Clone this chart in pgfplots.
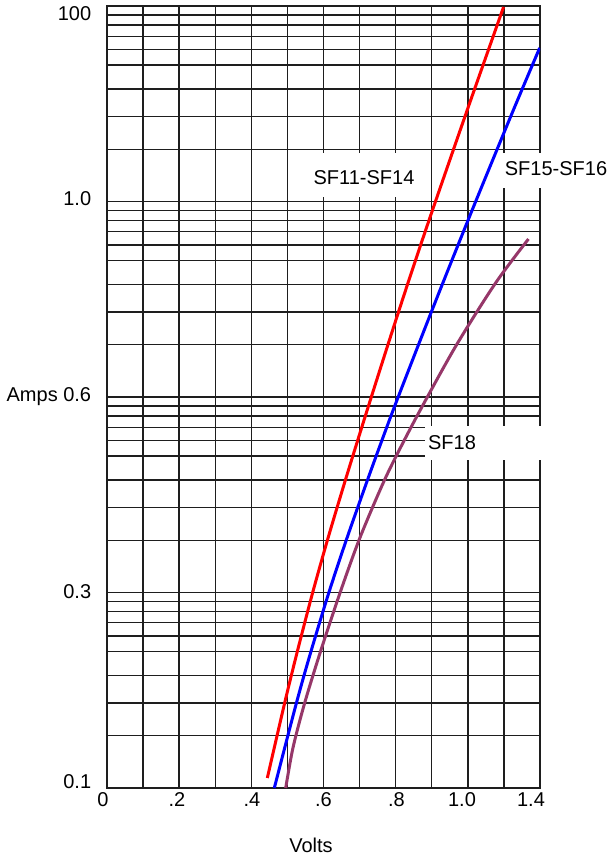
\documentclass[border=0pt]{standalone}
\usepackage{pgfplots}
\pgfplotsset{compat=1.18}
\usepackage{fontspec}
\setmainfont{Liberation Sans}
\definecolor{sfpurple}{RGB}{150,55,105}
\definecolor{gridc}{RGB}{30,30,30}
\begin{document}
\fontsize{20}{23}\selectfont
\begin{tikzpicture}[x=1pt,y=1pt]
\path[use as bounding box] (0,0) rectangle (611,859);
\begin{axis}[
  at={(107pt,71pt)}, anchor=south west,
  scale only axis, width=433pt, height=782pt,
  xmin=0, xmax=1.2, ymode=log, log basis y=10, ymin=0.1, ymax=1000,
  xtick={0,0.1,0.2,0.3,0.4,0.5,0.6,0.7,0.8,0.9,1.0,1.1,1.2},
  ytick={0.1,1,10,100,1000},
  minor ytick={0.185,0.272,0.377,0.5,0.6,0.7,0.8,0.9,1.85,2.72,3.77,5,6,7,8,9,18.5,27.2,37.7,50,60,70,80,90,185,272,377,500,600,700,800,900},
  xticklabels={}, yticklabels={},
  grid=both,
  major grid style={gridc, line width=1.4pt},
  minor grid style={gridc, line width=1.4pt},
  axis line style={gridc, line width=1.4pt},
  tick style={draw=none},
]
\addplot[red, line width=3pt, smooth, tension=0.5] coordinates {
(0.4443,0.1125) (0.4917,0.2690) (0.5257,0.4848) (0.5689,0.9824) (0.6126,1.9004) (0.6607,3.762) (0.6968,6.171) (0.7299,9.654) (0.7792,18.67) (0.8341,38.30) (0.8946,82.36) (0.9935,277.0) (1.0990,988.3)};
\addplot[blue, line width=3pt, smooth, tension=0.5] coordinates {
(0.4637,0.1) (0.5242,0.2690) (0.5632,0.4848) (0.6136,0.9824) (0.6651,1.9004) (0.7219,3.762) (0.7643,6.171) (0.8038,9.654) (0.8988,27.21) (1.0031,82.36) (1.1205,277.0) (1.1990,609.9)};
\addplot[sfpurple, line width=3pt, smooth, tension=0.5] coordinates {
(0.4953,0.1) (0.5153,0.1602) (0.5470,0.2690) (0.5895,0.4848) (0.6447,0.9824) (0.7007,1.9004) (0.7691,3.762) (0.8271,6.171) (0.8833,9.654) (0.9701,18.67) (1.0769,38.30) (1.1680,64.30)};
\end{axis}
% white boxes behind curve labels
\fill[white] (305,662) rectangle (425,706);
\node at (364,681) {SF11-SF14};
\fill[white] (499,671) rectangle (545,706);
\node at (556,690) {SF15-SF16};
\fill[white] (425,399) rectangle (545,433);
\node at (452,416) {SF18};
% y tick labels
\node[anchor=east] at (98,77) {0.1};
\node[anchor=east] at (98,267) {0.3};
\node[anchor=east] at (98,462) {Amps 0.6};
\node[anchor=east] at (98,660) {1.0};
\node[anchor=east] at (98,845) {100};
% x tick labels
\node at (103,59) {0};
\node at (177,59) {.2};
\node at (252,59) {.4};
\node at (323.5,59) {.6};
\node at (396.5,59) {.8};
\node at (462,59) {1.0};
\node at (531,59) {1.4};
\node at (311,14) {Volts};
\end{tikzpicture}
\end{document}
